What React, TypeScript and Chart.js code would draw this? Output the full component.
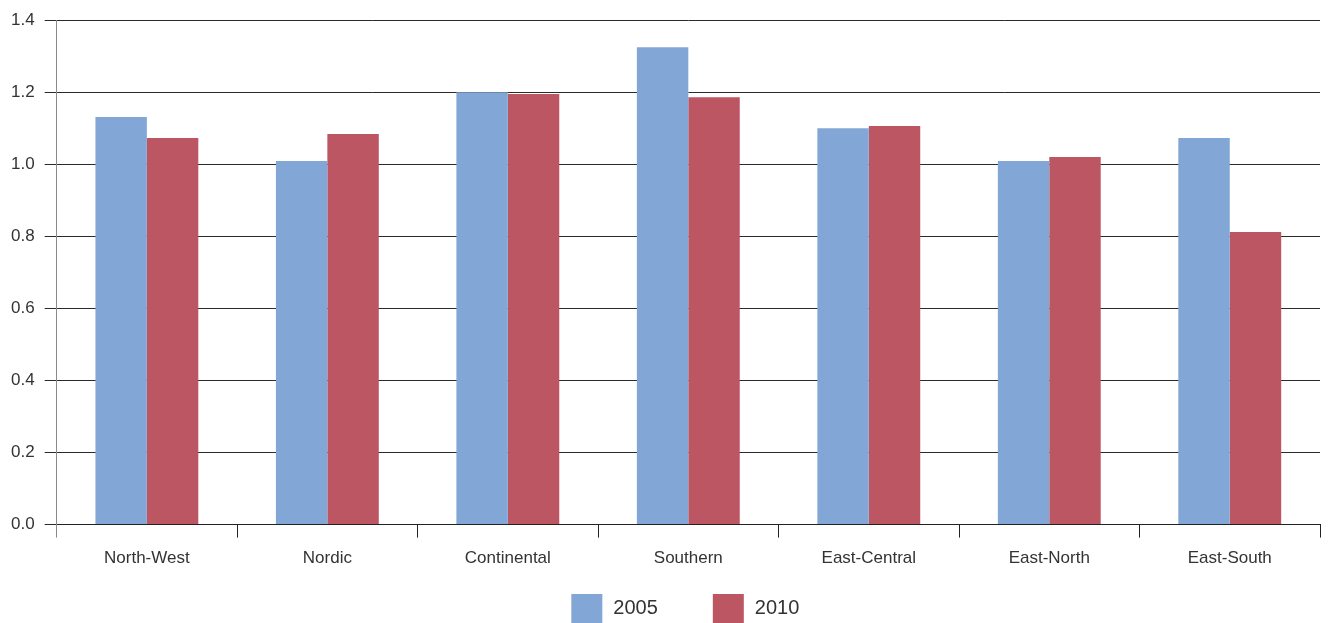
import React, { useEffect, useRef } from "react";
import { Chart, registerables } from "chart.js";

Chart.register(...registerables);

const categories = ["North-West", "Nordic", "Continental", "Southern", "East-Central", "East-North", "East-South"];
const values2005 = [1.131, 1.009, 1.2, 1.325, 1.1, 1.009, 1.073];
const values2010 = [1.073, 1.084, 1.195, 1.186, 1.106, 1.02, 0.812];
const seriesLabels = ["2005", "2010"];
const seriesColors = ["#82A7D6", "#BD5663"];
const yTicks = [0, 0.2, 0.4, 0.6, 0.8, 1.0, 1.2, 1.4];

const FONT = "'Liberation Sans', Arial, Helvetica, sans-serif";
const TEXT = "#333333";

const legendPlugin = {
  id: "customLegend",
  afterDraw(chart: any) {
    const ctx = chart.ctx;
    const area = chart.chartArea;
    const ds = chart.data.datasets;
    const boxW = 31;
    const boxH = 30;
    const gapText = 11;
    const gapItem = 55;
    ctx.save();
    ctx.font = `20px ${FONT}`;
    const widths = ds.map((d: any) => boxW + gapText + ctx.measureText(d.label).width);
    const total = widths.reduce((a: number, b: number) => a + b, 0) + gapItem * (ds.length - 1);
    let x = (area.left + area.right) / 2 - 3 - total / 2;
    const top = 594;
    ds.forEach((d: any, i: number) => {
      ctx.fillStyle = d.backgroundColor;
      ctx.fillRect(x, top, boxW, boxH);
      ctx.fillStyle = TEXT;
      ctx.textBaseline = "middle";
      ctx.textAlign = "left";
      ctx.fillText(d.label, x + boxW + gapText, top + 14);
      x += widths[i] + gapItem;
    });
    ctx.restore();
  },
};

export default function App() {
  const ref = useRef<HTMLCanvasElement | null>(null);
  useEffect(() => {
    if (!ref.current) return;
    const chart = new Chart(ref.current, {
      type: "bar",
      data: {
        labels: categories,
        datasets: [
          { label: seriesLabels[0], data: values2005, backgroundColor: seriesColors[0] },
          { label: seriesLabels[1], data: values2010, backgroundColor: seriesColors[1] },
        ],
      },
      options: {
        animation: false,
        responsive: true,
        maintainAspectRatio: false,
        layout: { padding: { left: 1, right: 8, top: 17, bottom: 43 } },
        datasets: { bar: { categoryPercentage: 0.57, barPercentage: 1.0 } },
        plugins: { legend: { display: false }, tooltip: { enabled: false } },
        scales: {
          x: {
            grid: {
              drawOnChartArea: false,
              drawTicks: true,
              tickLength: 13,
              color: (c: any) => (c.index === 0 || c.index >= categories.length ? "#8a8a8a" : "#222222"),
            },
            border: { display: true, color: "#222222" },
            ticks: { color: TEXT, font: { family: FONT, size: 17 }, padding: 11, maxRotation: 0 },
          },
          y: {
            min: 0,
            max: 1.4,
            afterBuildTicks: (s: any) => {
              s.ticks = yTicks.map((v) => ({ value: v }));
            },
            grid: { color: "#2a2a2a", tickLength: 12, drawTicks: true },
            border: { display: true, color: "#8a8a8a" },
            ticks: {
              color: TEXT,
              font: { family: FONT, size: 17 },
              padding: 10,
              callback: (v: any) => Number(v).toFixed(1),
            },
          },
        },
      },
      plugins: [legendPlugin],
    });
    return () => chart.destroy();
  }, []);
  return (
    <div style={{ position: "fixed", left: 0, top: 0, width: 1328, height: 623, background: "#fff" }}>
      <canvas ref={ref} />
    </div>
  );
}
